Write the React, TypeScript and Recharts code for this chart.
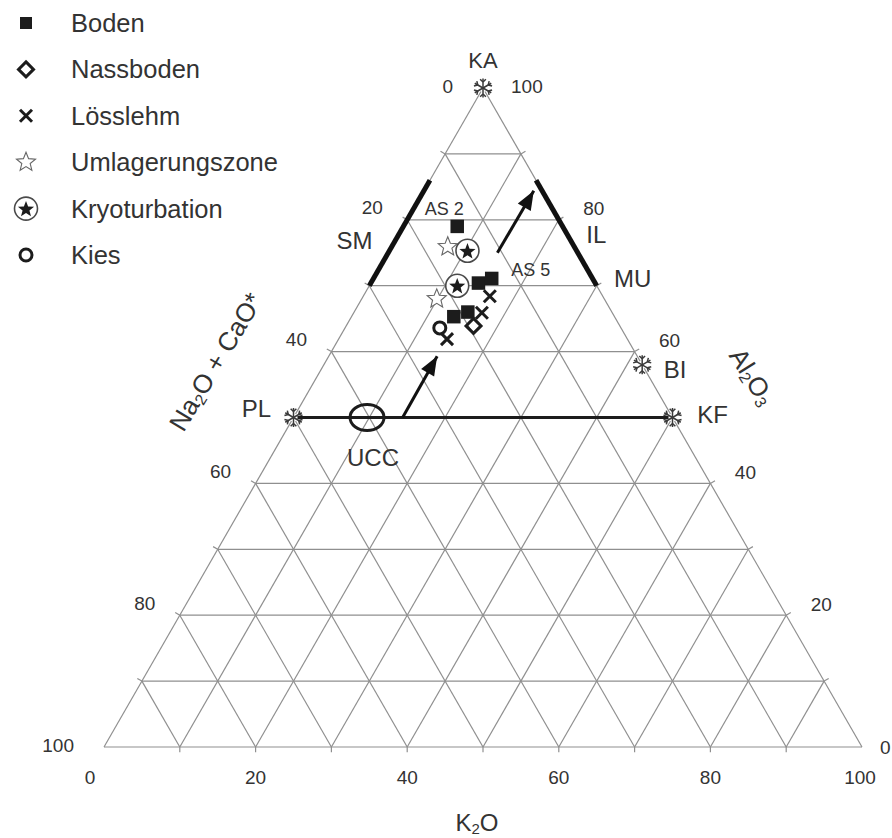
import React from 'react';
import { ScatterChart, Scatter, XAxis, YAxis, ReferenceLine } from 'recharts';

const SQ = Math.sqrt(3) / 2;
const FONT = 'Liberation Sans, Arial, Helvetica, sans-serif';
const INK = '#333';
const GRID = '#8f8f8f';

// ternary values: al = Al2O3, k = K2O (Na2O + CaO* = 100 - al - k)
const boden = [
  { al: 79.0, k: 7.1 },
  { al: 70.4, k: 14.2 },
  { al: 71.1, k: 15.6 },
  { al: 65.3, k: 13.5 },
  { al: 66.0, k: 15.0 },
];
const nassboden = [{ al: 63.9, k: 16.8 }];
const loesslehm = [
  { al: 68.4, k: 16.7 },
  { al: 65.9, k: 16.9 },
  { al: 61.9, k: 14.3 },
];
const umlagerung = [
  { al: 75.9, k: 7.4 },
  { al: 68.0, k: 9.9 },
];
const kryo = [
  { al: 75.3, k: 10.3 },
  { al: 70.0, k: 11.6 },
];
const kies = [{ al: 63.6, k: 12.5 }];

const minerals = [
  { text: 'KA', al: 100, k: 0 },
  { text: 'PL', al: 50, k: 0 },
  { text: 'KF', al: 50, k: 50 },
  { text: 'BI', al: 58, k: 42 },
];
const plKf = [{ al: 50, k: 0 }, { al: 50, k: 50 }];
const smBar = [{ al: 70, k: 0 }, { al: 86, k: 0 }];
const ilBar = [{ al: 70, k: 30 }, { al: 86, k: 14 }];
const ucc = [{ al: 50, k: 9.7 }];
const arrowLow = [{ al: 50, k: 14.4 }, { al: 59.3, k: 14.3 }];
const arrowHigh = [{ al: 75, k: 14.4 }, { al: 84.4, k: 14.5 }];

const featureLabels = [
  { text: 'SM', al: 78, k: 0 },
  { text: 'IL', al: 78, k: 22 },
  { text: 'MU', al: 70, k: 30 },
  { text: 'UCC', al: 50, k: 9.7 },
  { text: 'AS 2', al: 79.0, k: 7.1 },
  { text: 'AS 5', al: 71.1, k: 15.6 },
];

const tickValues = [0, 20, 40, 60, 80, 100];
const gridSteps = [0, 10, 20, 30, 40, 50, 60, 70, 80, 90, 100];

const legendItems = ['Boden', 'Nassboden', 'Lösslehm', 'Umlagerungszone', 'Kryoturbation', 'Kies'];

const labelStyle: Record<string, { dx: number; dy: number; size: number }> = {
  KA: { dx: 0, dy: -28, size: 22 },
  PL: { dx: -37, dy: -9, size: 24 },
  KF: { dx: 40, dy: -3, size: 24 },
  BI: { dx: 33, dy: 5, size: 24 },
  SM: { dx: -45, dy: 8, size: 24 },
  IL: { dx: 30, dy: 2, size: 24 },
  MU: { dx: 36, dy: -7, size: 24 },
  UCC: { dx: 6, dy: 40, size: 24 },
  'AS 2': { dx: -13, dy: -17, size: 18 },
  'AS 5': { dx: 39, dy: -8, size: 18 },
};

const toXY = (p: { al: number; k: number }) => ({ ...p, x: p.k + p.al / 2, y: p.al * SQ });
const pts = (arr: any[]) => arr.map(toXY);

const starPoints = (cx: number, cy: number, R: number, r: number) => {
  const out: string[] = [];
  for (let i = 0; i < 10; i++) {
    const ang = -Math.PI / 2 + (i * Math.PI) / 5;
    const rad = i % 2 === 0 ? R : r;
    out.push(`${cx + rad * Math.cos(ang)},${cy + rad * Math.sin(ang)}`);
  }
  return out.join(' ');
};

const Square = ({ cx, cy, s = 13.5 }: any) => (
  <rect x={cx - s / 2} y={cy - s / 2} width={s} height={s} fill="#1c1c1c" />
);
const Diamond = ({ cx, cy }: any) => (
  <polygon
    points={`${cx},${cy - 7.5} ${cx + 7.5},${cy} ${cx},${cy + 7.5} ${cx - 7.5},${cy}`}
    fill="none"
    stroke="#1c1c1c"
    strokeWidth={3}
  />
);
const Cross = ({ cx, cy }: any) => (
  <g stroke="#1c1c1c" strokeWidth={3}>
    <line x1={cx - 6} y1={cy - 6} x2={cx + 6} y2={cy + 6} />
    <line x1={cx - 6} y1={cy + 6} x2={cx + 6} y2={cy - 6} />
  </g>
);
const OpenStar = ({ cx, cy }: any) => (
  <polygon points={starPoints(cx, cy, 10, 4.4)} fill="#fff" stroke="#666" strokeWidth={1.1} />
);
const KryoMark = ({ cx, cy }: any) => (
  <g>
    <circle cx={cx} cy={cy} r={11.5} fill="#fff" stroke="#4a4a4a" strokeWidth={1.6} />
    <polygon points={starPoints(cx, cy + 0.8, 8.5, 3.6)} fill="#1c1c1c" />
  </g>
);
const KiesMark = ({ cx, cy }: any) => (
  <circle cx={cx} cy={cy} r={6} fill="none" stroke="#1c1c1c" strokeWidth={3} />
);

const Snowflake = ({ cx, cy }: any) => {
  const arms = [];
  for (let i = 0; i < 6; i++) {
    const a = (i * Math.PI) / 3 - Math.PI / 2;
    const ex = cx + 9.5 * Math.cos(a);
    const ey = cy + 9.5 * Math.sin(a);
    const bx = cx + 6 * Math.cos(a);
    const by = cy + 6 * Math.sin(a);
    arms.push(<line key={`a${i}`} x1={cx} y1={cy} x2={ex} y2={ey} />);
    [-0.8, 0.8].forEach((d, j) => {
      arms.push(
        <line
          key={`b${i}${j}`}
          x1={bx}
          y1={by}
          x2={bx + 4 * Math.cos(a + d)}
          y2={by + 4 * Math.sin(a + d)}
        />
      );
    });
  }
  return (
    <g stroke="#3a3a3a" strokeWidth={1.5}>
      <circle cx={cx} cy={cy} r={4} fill="#fff" stroke="none" />
      {arms}
    </g>
  );
};

const Empty = () => <g />;

const ArrowHead = (props: any) => {
  const { cx, cy, index } = props;
  if (index !== 1) return <g />;
  const ux = 0.5;
  const uy = -SQ;
  const L = 19;
  const W = 7.5;
  const bx = cx - ux * L;
  const by = cy - uy * L;
  return (
    <polygon
      points={`${cx},${cy} ${bx - uy * W},${by + ux * W} ${bx + uy * W},${by - ux * W}`}
      fill="#111"
    />
  );
};

const Txt = ({ x, y, size, anchor = 'middle', children }: any) => (
  <text
    x={x}
    y={y}
    fontSize={size}
    fill={INK}
    fontFamily={FONT}
    textAnchor={anchor}
    dominantBaseline="central"
  >
    {children}
  </text>
);

const LabelShape = (props: any) => {
  const { cx, cy, payload } = props;
  const st = labelStyle[payload.text];
  return (
    <Txt x={cx + st.dx} y={cy + st.dy} size={st.size}>
      {payload.text}
    </Txt>
  );
};

const MineralShape = (props: any) => (
  <g>
    <Snowflake cx={props.cx} cy={props.cy} />
    <LabelShape {...props} />
  </g>
);

// tick labels for the three axes
const leftTicks = tickValues.map((c) => ({ al: 100 - c, k: 0, text: String(c), side: 'left' }));
const rightTicks = tickValues.map((a) => ({ al: a, k: 100 - a, text: String(a), side: 'right' }));
const bottomTicks = tickValues.map((k) => ({ al: 0, k, text: String(k), side: 'bottom' }));

const TickShape = (props: any) => {
  const { cx, cy, payload } = props;
  const v = Number(payload.text);
  const end = v === 0 || v === 100;
  if (payload.side === 'left') {
    return end ? (
      <Txt x={cx - 30} y={cy - 2} size={19} anchor="end">{payload.text}</Txt>
    ) : (
      <Txt x={cx - 35} y={cy - 12} size={19}>{payload.text}</Txt>
    );
  }
  if (payload.side === 'right') {
    if (v === 0) return <Txt x={cx + 18} y={cy} size={19} anchor="start">{payload.text}</Txt>;
    return end ? (
      <Txt x={cx + 28} y={cy - 2} size={19} anchor="start">{payload.text}</Txt>
    ) : (
      <Txt x={cx + 35} y={cy - 11} size={19}>{payload.text}</Txt>
    );
  }
  const dx = v === 0 ? -14 : v === 100 ? -2 : 0;
  return <Txt x={cx + dx} y={cy + 30} size={19}>{payload.text}</Txt>;
};

const titleAnchors = [
  { al: 58, k: 0, text: 'cn' },
  { al: 58, k: 42, text: 'a' },
  { al: 0, k: 50, text: 'k' },
];

const TitleShape = (props: any) => {
  const { cx, cy, payload } = props;
  const common = { fontFamily: FONT, fill: INK, textAnchor: 'middle' as const, dominantBaseline: 'central' as const };
  if (payload.text === 'cn') {
    const x = cx - 108;
    const y = cy - 3;
    return (
      <text x={x} y={y} fontSize={26} transform={`rotate(-59, ${x}, ${y})`} {...common}>
        Na<tspan fontSize={16} dy={6}>2</tspan>
        <tspan dy={-6}>O + CaO*</tspan>
      </text>
    );
  }
  if (payload.text === 'a') {
    const x = cx + 110;
    const y = cy + 12;
    return (
      <text x={x} y={y} fontSize={26} transform={`rotate(58, ${x}, ${y})`} {...common}>
        Al<tspan fontSize={16} dy={6}>2</tspan>
        <tspan dy={-6}>O</tspan>
        <tspan fontSize={16} dy={6}>3</tspan>
      </text>
    );
  }
  const x = cx - 6;
  const y = cy + 75;
  return (
    <text x={x} y={y} fontSize={24} {...common}>
      K<tspan fontSize={15} dy={6}>2</tspan>
      <tspan dy={-6}>O</tspan>
    </text>
  );
};

// grid: lines parallel to each side every 10 units
const gridSegments: { x: number; y: number }[][] = [];
gridSteps.forEach((s) => {
  gridSegments.push([toXY({ al: s, k: 0 }), toXY({ al: s, k: 100 - s })]);
  gridSegments.push([toXY({ al: 0, k: s }), toXY({ al: 100 - s, k: s })]);
  gridSegments.push([toXY({ al: 0, k: 100 - s }), toXY({ al: 100 - s, k: 0 })]);
});
const stub = 0.7;
gridSteps.slice(1, -1).forEach((s) => {
  const b = toXY({ al: 0, k: s });
  gridSegments.push([b, { x: b.x, y: b.y - stub }]);
  const l = toXY({ al: s, k: 0 });
  gridSegments.push([l, { x: l.x - stub * SQ, y: l.y + stub / 2 }]);
  const r = toXY({ al: s, k: 100 - s });
  gridSegments.push([r, { x: r.x + stub * SQ, y: r.y + stub / 2 }]);
});

const legendIcons = [Square, Diamond, Cross, OpenStar, KryoMark, KiesMark];

const Legend = () => (
  <svg width={320} height={280} style={{ position: 'absolute', left: 0, top: 0 }}>
    {legendItems.map((name, i) => {
      const y = 23 + i * 46.4;
      const Icon = legendIcons[i];
      return (
        <g key={name}>
          <Icon cx={26} cy={y} s={12} />
          <Txt x={71} y={y} size={25.5} anchor="start">{name}</Txt>
        </g>
      );
    })}
  </svg>
);

export default function App() {
  return (
    <div style={{ position: 'absolute', left: 0, top: 0, width: 892, height: 838, background: '#fff' }}>
      <ScatterChart width={892} height={838} margin={{ top: 88, right: 30, bottom: 91, left: 104 }}>
        <XAxis type="number" dataKey="x" domain={[0, 100]} hide />
        <YAxis type="number" dataKey="y" domain={[0, 100 * SQ]} hide />
        {gridSegments.map((seg, i) => (
          <ReferenceLine key={i} segment={seg} stroke={GRID} strokeWidth={1.2} ifOverflow="visible" />
        ))}
        <Scatter data={pts(plKf)} line={{ stroke: '#1c1c1c', strokeWidth: 3 }} shape={Empty} isAnimationActive={false} />
        <Scatter data={pts(smBar)} line={{ stroke: '#111', strokeWidth: 5 }} shape={Empty} isAnimationActive={false} />
        <Scatter data={pts(ilBar)} line={{ stroke: '#111', strokeWidth: 5 }} shape={Empty} isAnimationActive={false} />
        <Scatter data={pts(arrowLow)} line={{ stroke: '#111', strokeWidth: 3 }} shape={ArrowHead} isAnimationActive={false} />
        <Scatter data={pts(arrowHigh)} line={{ stroke: '#111', strokeWidth: 3 }} shape={ArrowHead} isAnimationActive={false} />
        <Scatter
          data={pts(ucc)}
          shape={(p: any) => <ellipse cx={p.cx} cy={p.cy} rx={17} ry={13} fill="none" stroke="#1c1c1c" strokeWidth={3} />}
          isAnimationActive={false}
        />
        <Scatter data={pts(minerals)} shape={MineralShape} isAnimationActive={false} />
        <Scatter data={pts(featureLabels)} shape={LabelShape} isAnimationActive={false} />
        <Scatter data={pts(leftTicks)} shape={TickShape} isAnimationActive={false} />
        <Scatter data={pts(rightTicks)} shape={TickShape} isAnimationActive={false} />
        <Scatter data={pts(bottomTicks)} shape={TickShape} isAnimationActive={false} />
        <Scatter data={pts(titleAnchors)} shape={TitleShape} isAnimationActive={false} />
        <Scatter data={pts(umlagerung)} shape={OpenStar} isAnimationActive={false} />
        <Scatter data={pts(kryo)} shape={KryoMark} isAnimationActive={false} />
        <Scatter data={pts(loesslehm)} shape={Cross} isAnimationActive={false} />
        <Scatter data={pts(boden)} shape={Square} isAnimationActive={false} />
        <Scatter data={pts(nassboden)} shape={Diamond} isAnimationActive={false} />
        <Scatter data={pts(kies)} shape={KiesMark} isAnimationActive={false} />
      </ScatterChart>
      <Legend />
    </div>
  );
}
